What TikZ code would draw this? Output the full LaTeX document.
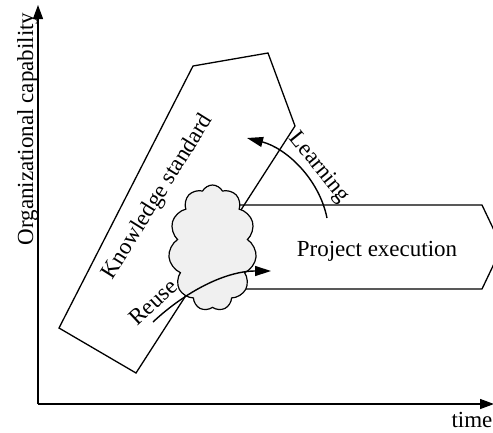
\documentclass[tikz,border=0pt]{standalone}
\usepackage{fontspec}
\setmainfont{Liberation Serif}
\usetikzlibrary{arrows.meta,shapes.symbols}
\begin{document}
\begin{tikzpicture}[x=1pt,y=-1pt,
  lbl/.style={font=\fontsize{23}{27}\selectfont, inner sep=0pt},
  outline/.style={draw=black, line width=1.3pt, line join=miter},
  axisarrow/.style={line width=1.3pt, -{Triangle[length=14pt,width=10pt]}},
  flowarrow/.style={line width=1.4pt, -{Triangle[length=16pt,width=10pt]}},
  puff/.style={cloud, cloud puffs=11, cloud puff arc=125, cloud ignores aspect,
    minimum width=88pt, minimum height=126pt, inner sep=0pt,
    draw=black, line width=1.2pt, fill=black!6}]
\useasboundingbox (0,0) rectangle (493,432);
\clip (0,0) rectangle (493,432);

% axes
\coordinate (origin) at (38,404);
\coordinate (ytop) at (38,5);
\coordinate (xend) at (494,404);
\draw[axisarrow] (origin) -- (ytop);
\draw[axisarrow] (origin) -- (xend);
\node[lbl, rotate=90, anchor=base] (ylab) at (33,129) {Organizational capability};
\node[lbl, anchor=base] (xlab) at (472,427) {time};

% knowledge standard band
\coordinate (k1) at (59,328);
\coordinate (k2) at (193,66);
\coordinate (k3) at (268,53);
\coordinate (k4) at (295,126);
\coordinate (k5) at (136,373);
\draw[outline] (k1) -- (k2) -- (k3) -- (k4) -- (k5) -- cycle;
\node[lbl, rotate=58] (know) at (158,197) {Knowledge standard};

% project execution chevron
\coordinate (p1) at (215,205);
\coordinate (p2) at (482,205);
\coordinate (p3) at (502,247);
\coordinate (p4) at (482,289);
\coordinate (p5) at (215,289);
\draw[outline] (p1) -- (p2) -- (p3) -- (p4) -- (p5) -- cycle;
\node[lbl, anchor=base] (proj) at (377,256) {Project execution};

% cloud joining both
\node[puff] (cl) at (212.5,248) {};

% learning and reuse flows
\coordinate (lstart) at (327,218);
\coordinate (lend) at (247,138);
\draw[flowarrow] (lstart) .. controls (319,178.5) and (286,148) .. (lend);
\node[lbl, rotate=-51] (learn) at (319,168) {Learning};

\coordinate (rstart) at (153,322);
\coordinate (rend) at (271,271);
\draw[flowarrow] (rstart) .. controls (185,292) and (225,271) .. (rend);
\node[lbl, rotate=43] (reuse) at (153,302) {Reuse};
\end{tikzpicture}
\end{document}
